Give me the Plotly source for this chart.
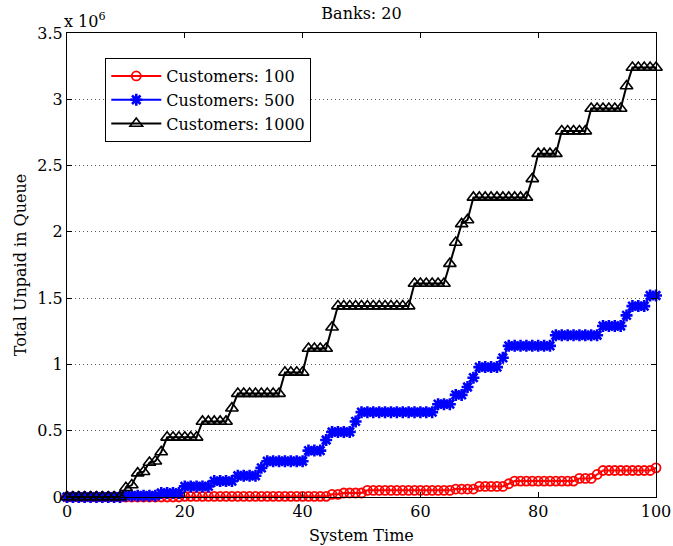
import plotly.graph_objects as go

# System time steps 0..100
time = list(range(101))

# Total unpaid in queue, in units of 1e6
unpaid_100 = [
    0, 0, 0, 0, 0, 0, 0, 0, 0, 0,
    0, 0, 0, 0, 0, 0, 0, 0, 0, 0,
    0.005, 0.005, 0.005, 0.005, 0.005, 0.005, 0.005, 0.005, 0.005, 0.005,
    0.005, 0.005, 0.005, 0.005, 0.005, 0.005, 0.005, 0.005, 0.005, 0.005,
    0.005, 0.005, 0.005, 0.005, 0.005, 0.02, 0.02, 0.03, 0.03, 0.03,
    0.03, 0.05, 0.05, 0.05, 0.05, 0.05, 0.05, 0.05, 0.05, 0.05,
    0.05, 0.05, 0.05, 0.05, 0.05, 0.05, 0.06, 0.06, 0.06, 0.06,
    0.08, 0.08, 0.08, 0.08, 0.08, 0.10, 0.12, 0.12, 0.12, 0.12,
    0.12, 0.12, 0.12, 0.12, 0.12, 0.12, 0.12, 0.14, 0.14, 0.14,
    0.17, 0.20, 0.20, 0.20, 0.20, 0.20, 0.20, 0.20, 0.20, 0.20,
    0.22,
]

unpaid_500 = [
    0, 0, 0, 0, 0, 0, 0, 0, 0, 0,
    0.01, 0.01, 0.01, 0.01, 0.01, 0.01, 0.03, 0.03, 0.03, 0.03,
    0.08, 0.08, 0.08, 0.08, 0.08, 0.12, 0.12, 0.12, 0.12, 0.16,
    0.16, 0.16, 0.16, 0.22, 0.27, 0.27, 0.27, 0.27, 0.27, 0.27,
    0.27, 0.35, 0.35, 0.35, 0.43, 0.49, 0.49, 0.49, 0.49, 0.57,
    0.64, 0.64, 0.64, 0.64, 0.64, 0.64, 0.64, 0.64, 0.64, 0.64,
    0.64, 0.64, 0.64, 0.70, 0.70, 0.70, 0.77, 0.77, 0.83, 0.90,
    0.98, 0.98, 0.98, 0.98, 1.05, 1.14, 1.14, 1.14, 1.14, 1.14,
    1.14, 1.14, 1.14, 1.22, 1.22, 1.22, 1.22, 1.22, 1.22, 1.22,
    1.22, 1.29, 1.29, 1.29, 1.29, 1.37, 1.44, 1.44, 1.44, 1.52,
    1.52,
]

unpaid_1000 = [
    0, 0, 0, 0, 0, 0, 0, 0, 0, 0,
    0.07, 0.09, 0.18, 0.19, 0.26, 0.27, 0.34, 0.45, 0.45, 0.45,
    0.45, 0.45, 0.45, 0.57, 0.57, 0.57, 0.57, 0.57, 0.67, 0.78,
    0.78, 0.78, 0.78, 0.78, 0.78, 0.78, 0.78, 0.94, 0.94, 0.94,
    0.94, 1.12, 1.12, 1.12, 1.12, 1.28, 1.44, 1.44, 1.44, 1.44,
    1.44, 1.44, 1.44, 1.44, 1.44, 1.44, 1.44, 1.44, 1.44, 1.61,
    1.61, 1.61, 1.61, 1.61, 1.61, 1.76, 1.92, 2.06, 2.09, 2.26,
    2.26, 2.26, 2.26, 2.26, 2.26, 2.26, 2.26, 2.26, 2.26, 2.40,
    2.59, 2.59, 2.59, 2.59, 2.76, 2.76, 2.76, 2.76, 2.76, 2.93,
    2.93, 2.93, 2.93, 2.93, 2.93, 3.10, 3.24, 3.24, 3.24, 3.24,
    3.24,
]

# name, values, colour, marker symbol, marker size, marker line width
series = [
    ("Customers: 100", unpaid_100, "#ff0000", "circle-open", 9, 1.8),
    ("Customers: 500", unpaid_500, "#0000ff", "asterisk-open", 10, 2.6),
    ("Customers: 1000", unpaid_1000, "#000000", "triangle-up-open", 11, 1.6),
]

FONT = "DejaVu Serif"
FS = 16

fig = go.Figure()
for i, (name, vals, color, symbol, size, mlw) in enumerate(series):
    fig.add_trace(go.Scatter(
        x=time, y=vals, name=name, mode="lines+markers",
        legendgroup=f"g{i}",
        line=dict(color=color, width=2),
        marker=dict(symbol=symbol, size=size, color=color,
                    line=dict(color=color, width=mlw)),
        cliponaxis=False,
    ))

axis_common = dict(
    showline=True, linecolor="black", linewidth=1, mirror="ticks",
    ticks="inside", ticklen=5, tickcolor="black",
    tickfont=dict(family=FONT, size=FS, color="black"),
    zeroline=False, automargin=False,
)

fig.update_xaxes(
    range=[0, 100], tickvals=[0, 20, 40, 60, 80, 100], showgrid=False,
    **axis_common,
)
fig.update_yaxes(
    range=[0, 3.5], tickvals=[0, 0.5, 1, 1.5, 2, 2.5, 3, 3.5],
    ticktext=["0", "0.5", "1", "1.5", "2", "2.5", "3", "3.5"],
    showgrid=True, gridcolor="#555555", griddash="1px,3px", gridwidth=1,
    title=dict(text="Total Unpaid in Queue", font=dict(family=FONT, size=FS, color="black"), standoff=6),
    **axis_common,
)

fig.update_layout(
    width=673, height=546,
    margin=dict(l=67, r=17, t=33, b=49),
    paper_bgcolor="white", plot_bgcolor="white",
    font=dict(family=FONT, color="black"),
    title=dict(text="Banks: 20", x=0.5, xref="paper", y=0.975, yanchor="middle",
               font=dict(family=FONT, size=FS, color="black")),
    legend=dict(
        x=0.065, y=0.946, xanchor="left", yanchor="top",
        bgcolor="white", bordercolor="black", borderwidth=1,
        font=dict(family=FONT, size=FS, color="black"),
        traceorder="grouped", tracegroupgap=0, itemwidth=50,
    ),
    annotations=[
        # exponent label for the y axis
        dict(text="x 10<sup>6</sup>", xref="paper", yref="paper", x=-0.008, y=1.0,
             xanchor="left", yanchor="bottom", showarrow=False,
             font=dict(family=FONT, size=FS, color="black")),
        # x axis title
        dict(text="System Time", xref="paper", yref="paper", x=0.5, y=-0.082,
             xanchor="center", yanchor="middle", showarrow=False,
             font=dict(family=FONT, size=FS, color="black")),
    ],
)

fig.write_html("out.html")
